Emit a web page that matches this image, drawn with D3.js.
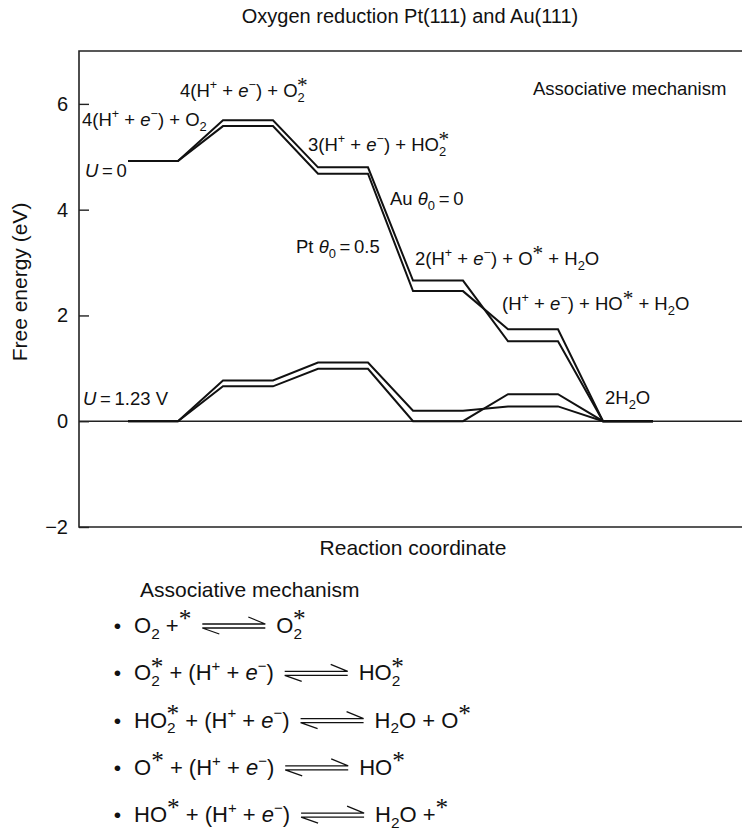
<!DOCTYPE html>
<html>
<head>
<meta charset="utf-8">
<script src="https://cdn.jsdelivr.net/npm/d3@7"></script>
<style>
  body { margin: 0; background: #fff; }
  svg { display: block; font-family: "Liberation Sans", Arial, Helvetica, sans-serif; }
  text { fill: #111; white-space: pre; }
</style>
</head>
<body>
<script>
'use strict';
// reaction steps (categories)
const steps = ['O2', 'O2*', 'HO2*', 'O*', 'HO*', 'H2O'];
// free energies (eV)
const auU0 = [4.92, 5.69, 4.80, 2.66, 1.51, 0];
const ptU0 = [4.92, 5.58, 4.68, 2.46, 1.74, 0];
const auU123 = [0, 0.77, 1.11, 0.20, 0.28, 0];
const ptU123 = [0, 0.66, 0.99, 0.00, 0.51, 0];
const yTicks = [-2, 0, 2, 4, 6];

// mechanism steps below the chart
const reactants = [
  'O_{2} +^{*}',
  'O_{2}^{*} + (H^{+} + [e]^{−})',
  'HO_{2}^{*} + (H^{+} + [e]^{−})',
  'O^{*} + (H^{+} + [e]^{−})',
  'HO^{*} + (H^{+} + [e]^{−})'
];
const products = ['O_{2}^{*}', 'HO_{2}^{*}', 'H_{2}O + O^{*}', 'HO^{*}', 'H_{2}O +^{*}'];

const W = 742, H = 828;
const svg = d3.select(document.body).append('svg')
  .attr('width', W).attr('height', H);

const pLeft = 79, pTop = 51, pBottom = 527, pRight = 745;
const flat = 0.526; // width of each level, in step units

const x = d3.scaleLinear().domain([0, steps.length - 1 + flat]).range([128, 653]);
const y = d3.scaleLinear().domain([-2, 7]).range([pBottom, pTop]);

// text with sub/superscripts: _{..} sub, ^{..} sup, [..] italic
function richText(sel, tx, ty, str, size, anchor) {
  const t = sel.append('text').attr('x', tx).attr('y', ty).attr('font-size', size);
  if (anchor) t.attr('text-anchor', anchor);
  const parts = str.split(/(_\{[^}]*\}|\^\{[^}]*\}|\[[^\]]*\])/).filter(s => s !== '');
  let cur = 0, prevSub = null;
  parts.forEach(p => {
    let kind = 'n', txt = p;
    if (p.startsWith('_{')) { kind = 'sub'; txt = p.slice(2, -1); }
    else if (p.startsWith('^{')) { kind = 'sup'; txt = p.slice(2, -1); }
    else if (p.startsWith('[')) { kind = 'it'; txt = p.slice(1, -1); }
    const star = kind === 'sup' && txt === '*';
    let fs = size, off = 0;
    if (kind === 'sub') { fs = size * 0.7; off = size * 0.25; }
    if (kind === 'sup') {
      if (star) { fs = size * 1.15; off = -size * 0.26; }
      else { fs = size * 0.68; off = -size * 0.42; }
    }
    const ts = t.append('tspan').text(txt).attr('font-size', fs).attr('dy', off - cur);
    if (kind === 'it') ts.attr('font-style', 'italic');
    if (star) ts.attr('font-family', 'Liberation Serif');
    if (kind === 'sup' && prevSub) ts.attr('dx', -prevSub.node().getComputedTextLength() - 0.5);
    cur = off;
    prevSub = kind === 'sub' ? ts : null;
  });
  return t;
}

// frame
const frame = svg.append('g').attr('stroke', '#222').attr('stroke-width', 1.6).attr('fill', 'none');
frame.append('path').attr('d', d3.line()([[pRight, pTop], [pLeft, pTop], [pLeft, pBottom], [pRight, pBottom]]));
frame.append('line').attr('x1', pLeft).attr('x2', pRight).attr('y1', y(0)).attr('y2', y(0));

// y axis
const yAxis = d3.axisLeft(y).tickValues(yTicks).tickSizeInner(-10).tickSizeOuter(0).tickPadding(11);
const gy = svg.append('g').attr('transform', `translate(${pLeft},0)`).call(yAxis);
gy.select('.domain').remove();
gy.selectAll('.tick line').attr('stroke', '#222').attr('stroke-width', 1.4);
gy.selectAll('.tick text').attr('font-size', 20).attr('font-family', 'Liberation Sans, Arial, sans-serif').attr('fill', '#111');

// energy profiles
function profile(vals) {
  const pts = [];
  vals.forEach((v, i) => { pts.push([i, v]); pts.push([i + flat, v]); });
  return pts;
}
const line = d3.line().x(d => x(d[0])).y(d => y(d[1]));
const lines = svg.append('g').attr('fill', 'none').attr('stroke', '#111')
  .attr('stroke-width', 2).attr('stroke-linejoin', 'miter');
[auU0, ptU0, auU123, ptU123].forEach(s => {
  lines.append('path').attr('d', line(profile(s)));
});

// titles
svg.append('text').attr('x', 410).attr('y', 23).attr('text-anchor', 'middle')
  .attr('font-size', 20).text('Oxygen reduction Pt(111) and Au(111)');
svg.append('text').attr('x', 413).attr('y', 555).attr('text-anchor', 'middle')
  .attr('font-size', 21).text('Reaction coordinate');
svg.append('text').attr('transform', 'translate(27,282) rotate(-90)').attr('text-anchor', 'middle')
  .attr('font-size', 21).text('Free energy (eV)');
svg.append('text').attr('x', 533).attr('y', 95).attr('font-size', 18.5).text('Associative mechanism');

// level annotations
const ann = svg.append('g');
richText(ann, 82, 126, '4(H^{+} + [e]^{−}) + O_{2}', 18.5);
richText(ann, 180, 97, '4(H^{+} + [e]^{−}) + O_{2}^{*}', 18.5);
richText(ann, 85, 177, '[U]\u2009=\u20090', 18.5);
richText(ann, 308, 151, '3(H^{+} + [e]^{−}) + HO_{2}^{*}', 18.5);
richText(ann, 390, 205, 'Au [θ]_{0}\u2009=\u20090', 18.5);
richText(ann, 296, 253, 'Pt [θ]_{0}\u2009=\u20090.5', 18.5);
richText(ann, 415, 265, '2(H^{+} + [e]^{−}) + O^{*} + H_{2}O', 18.5);
richText(ann, 502, 310, '(H^{+} + [e]^{−}) + HO^{*} + H_{2}O', 18.5);
richText(ann, 83, 405, '[U]\u2009=\u20091.23 V', 18.5);
richText(ann, 605, 404, '2H_{2}O', 18.5);

// mechanism list
const mech = svg.append('g');
mech.append('text').attr('x', 140).attr('y', 597).attr('font-size', 21).text('Associative mechanism');
reactants.forEach((r, i) => {
  const by = 633 + i * 47.3;
  mech.append('text').attr('x', 117.5).attr('y', by).attr('text-anchor', 'middle')
    .attr('font-size', 21).text('•');
  const t = richText(mech, 134, by, r, 22);
  const bb = t.node().getBBox();
  const x0 = bb.x + bb.width + 11, x1 = x0 + 63, cy = by - 7;
  mech.append('path')
    .attr('fill', 'none').attr('stroke', '#111').attr('stroke-width', 1.3)
    .attr('d', `M${x0},${cy - 2}H${x1}L${x1 - 17},${cy - 9}M${x1},${cy + 2}H${x0}L${x0 + 17},${cy + 8}`);
  richText(mech, x1 + 11, by, products[i], 22);
});
</script>
</body>
</html>
